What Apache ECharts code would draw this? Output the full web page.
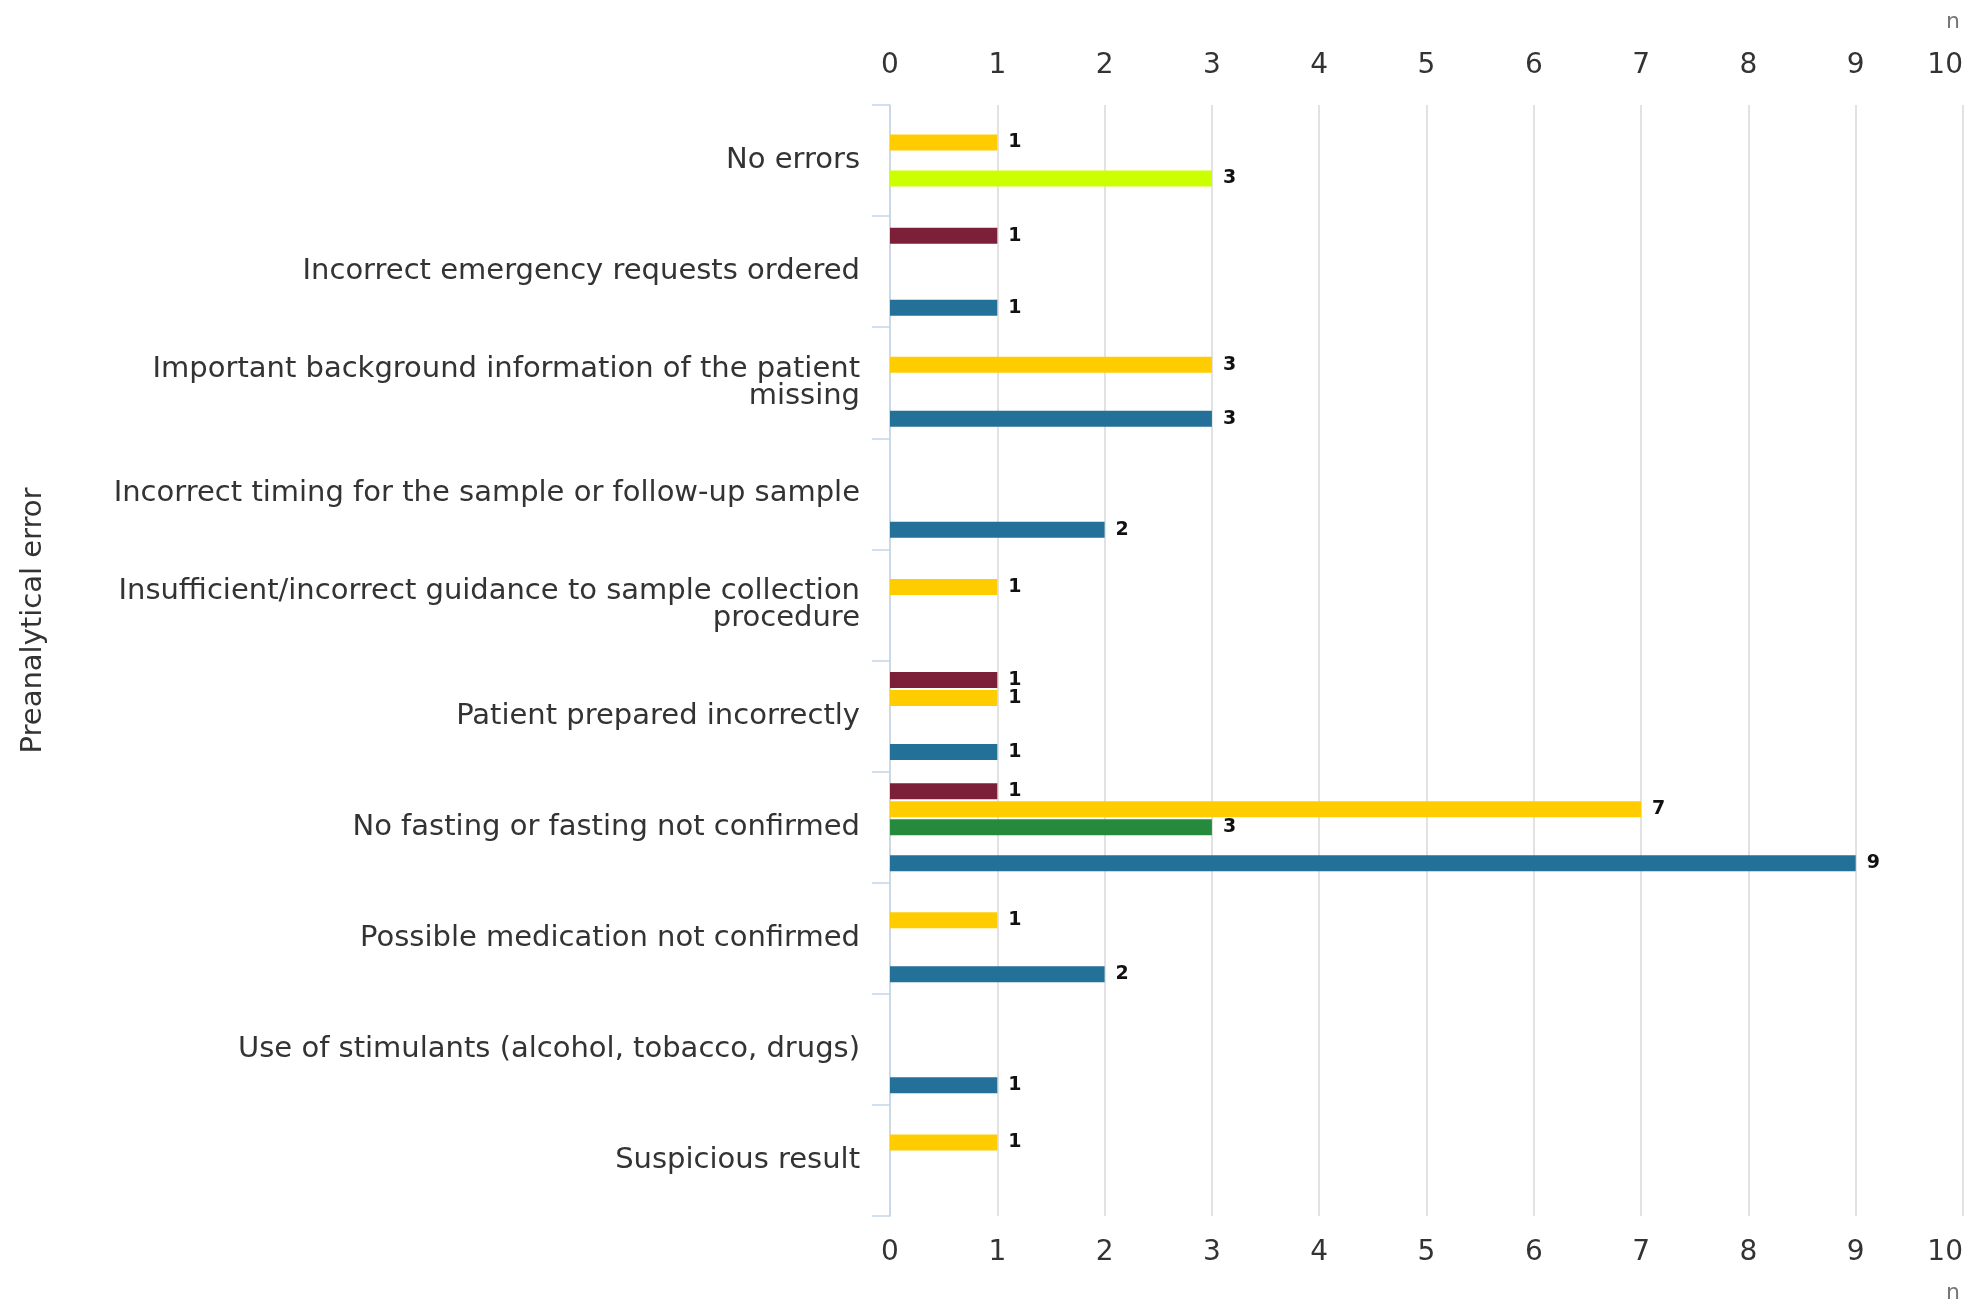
<!DOCTYPE html>
<html>
<head>
<meta charset="utf-8">
<script src="https://cdn.jsdelivr.net/npm/echarts@6/dist/echarts.min.js"></script>
<style>
html,body{margin:0;padding:0;background:#fff;}
#main{width:1974px;height:1304px;}
</style>
</head>
<body>
<div id="main"></div>
<script>
var categories = [
  'No errors',
  'Incorrect emergency requests ordered',
  'Important background information of the patient missing',
  'Incorrect timing for the sample or follow-up sample',
  'Insufficient/incorrect guidance to sample collection procedure',
  'Patient prepared incorrectly',
  'No fasting or fasting not confirmed',
  'Possible medication not confirmed',
  'Use of stimulants (alcohol, tobacco, drugs)',
  'Suspicious result'
];
var seriesNames = ['Series 1', 'Series 2', 'Series 3', 'Series 4', 'Series 5'];
var seriesColors = ['#7b2038', '#ffcc00', '#258a3c', '#ccff00', '#237199'];
var values1 = [null, 1, null, null, null, 1, 1, null, null, null];
var values2 = [1, null, 3, null, 1, 1, 7, 1, null, 1];
var values3 = [null, null, null, null, null, null, 3, null, null, null];
var values4 = [3, null, null, null, null, null, null, null, null, null];
var values5 = [null, 1, 3, 2, null, 1, 9, 2, 1, null];
var xTicks = [0, 1, 2, 3, 4, 5, 6, 7, 8, 9, 10];
var yAxisName = 'Preanalytical error';
var unitLabel = 'n';

var allValues = [values1, values2, values3, values4, values5];
var FONT = 'DejaVu Sans';
var MAX_CHARS = 52;

function wrapLabel(text) {
  var words = text.split(' ');
  var lines = [];
  var cur = '';
  words.forEach(function (w) {
    var next = cur ? cur + ' ' + w : w;
    if (next.length > MAX_CHARS && cur) {
      lines.push(cur);
      cur = w;
    } else {
      cur = next;
    }
  });
  if (cur) lines.push(cur);
  return lines.join('\n');
}

var chart = echarts.init(document.getElementById('main'));

var series = allValues.map(function (vals, i) {
  return {
    name: seriesNames[i],
    type: 'bar',
    data: vals,
    barWidth: 16,
    barGap: '12.5%',
    xAxisIndex: 0,
    itemStyle: { color: seriesColors[i] },
    label: {
      show: true,
      position: 'right',
      distance: 11,
      fontFamily: FONT,
      fontWeight: 'bold',
      fontSize: 19,
      color: '#111'
    },
    emphasis: { disabled: true }
  };
});

var xAxisCommon = {
  type: 'value',
  min: xTicks[0],
  max: xTicks[xTicks.length - 1],
  interval: 1,
  axisLine: { show: false },
  axisTick: { show: false },
  axisLabel: {
    fontFamily: FONT,
    fontSize: 28,
    color: '#333',
    alignMaxLabel: 'right'
  }
};

chart.setOption({
  animation: false,
  textStyle: { fontFamily: FONT },
  grid: { left: 890, right: 11, top: 105, bottom: 88, containLabel: false },
  xAxis: [
    Object.assign({}, xAxisCommon, {
      position: 'top',
      axisLabel: Object.assign({}, xAxisCommon.axisLabel, { margin: 25 }),
      splitLine: { show: true, lineStyle: { color: '#d9d9d9', width: 1.5 } }
    }),
    Object.assign({}, xAxisCommon, {
      position: 'bottom',
      axisLabel: Object.assign({}, xAxisCommon.axisLabel, { margin: 23 }),
      splitLine: { show: false }
    })
  ],
  yAxis: {
    type: 'category',
    data: categories,
    inverse: true,
    name: yAxisName,
    nameLocation: 'middle',
    nameGap: 842,
    nameRotate: 90,
    nameTextStyle: { fontFamily: FONT, fontSize: 29, color: '#333', padding: [0, 0, 0, 80] },
    axisLine: { show: true, lineStyle: { color: '#c5d5e6', width: 1.5 } },
    axisTick: { show: true, length: 18, lineStyle: { color: '#c5d5e6', width: 1.5 } },
    axisLabel: {
      fontFamily: FONT,
      fontSize: 29,
      color: '#333',
      margin: 30,
      lineHeight: 27,
      align: 'right',
      formatter: wrapLabel
    },
    splitLine: { show: false }
  },
  graphic: [
    { type: 'text', right: 14, top: 11, style: { text: unitLabel, fontFamily: FONT, fontSize: 22, fill: '#777' } },
    { type: 'text', right: 14, bottom: 0, style: { text: unitLabel, fontFamily: FONT, fontSize: 22, fill: '#777' } }
  ],
  series: series
});
</script>
</body>
</html>
